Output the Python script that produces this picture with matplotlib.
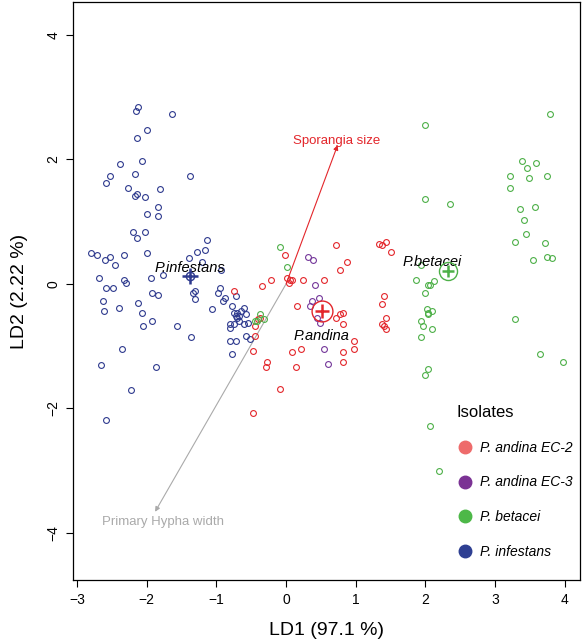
import matplotlib
matplotlib.use("Agg")
import matplotlib.pyplot as plt
from matplotlib.lines import Line2D
import numpy as np

plt.rcParams['font.family'] = ['Liberation Sans Narrow', 'Liberation Sans', 'DejaVu Sans']

# ---- data (LD1, LD2 scores) ----
infestans_x = [-2.12, -2.16, -1.64, -2.00, -2.14, -2.39, -2.07, -2.52, -2.17, -1.38, -2.58, -2.27, -1.81,
               -2.14, -2.17, -2.02, -1.84, -1.99, -1.84, -2.20, -2.03, -2.14, -1.14, -2.80, -2.72, -2.53,
               -2.60, -2.32, -1.99, -1.40, -1.28, -1.17, -1.20, -2.45, -0.94, -1.77, -2.68, -1.94, -2.33,
               -2.30, -2.58, -2.49, -0.95, -1.92, -1.84, -1.34, -1.31, -0.97, -2.63, -2.12, -1.30, -0.87,
               -0.90, -0.72, -2.62, -2.40, -2.07, -1.07, -0.78, -0.75, -0.72, -0.70, -0.64, -0.60, -0.67,
               -0.57, -0.71, -1.93, -1.57, -2.06, -0.81, -0.75, -0.61, -0.67, -0.80, -0.54, -1.36, -0.81,
               -0.72, -0.58, -0.52, -2.35, -0.77, -2.65, -1.87, -2.22, -2.59]
infestans_y = [2.85, 2.77, 2.73, 2.48, 2.34, 1.92, 1.97, 1.73, 1.76, 1.74, 1.62, 1.54, 1.52,
               1.44, 1.41, 1.39, 1.23, 1.13, 1.09, 0.84, 0.83, 0.73, 0.70, 0.49, 0.47, 0.44,
               0.38, 0.47, 0.49, 0.41, 0.51, 0.54, 0.36, 0.30, 0.23, 0.15, 0.09, 0.10, 0.07,
               0.01, -0.06, -0.06, -0.06, -0.14, -0.18, -0.14, -0.12, -0.14, -0.28, -0.31, -0.25, -0.23,
               -0.27, -0.20, -0.44, -0.38, -0.46, -0.41, -0.36, -0.47, -0.51, -0.46, -0.44, -0.39, -0.52,
               -0.49, -0.55, -0.60, -0.67, -0.68, -0.64, -0.65, -0.65, -0.60, -0.70, -0.62, -0.86, -0.91,
               -0.91, -0.84, -0.89, -1.05, -1.13, -1.31, -1.33, -1.70, -2.19]

ec3_x = [0.32, 0.38, 0.42, 0.47, 0.37, 0.34, 0.45, 0.49, 0.55, 0.60]
ec3_y = [0.44, 0.39, -0.01, -0.22, -0.28, -0.36, -0.54, -0.62, -1.05, -1.29]

ec2_x = [0.72, -0.02, 0.88, 0.78, -0.21, -0.35, 0.02, 0.06, 0.09, 0.04, 0.25, 0.54, 0.15, 0.72, 0.78,
         0.82, 0.81, -0.44, -0.44, -0.48, 0.97, 0.98, 0.22, 0.09, 0.81, 0.81, -0.27, -0.29, 0.14, -0.09,
         1.34, 1.38, 1.44, 1.51, 1.41, 1.38, 1.44, 1.37, 1.41, 1.43, -0.75, -0.47, -0.41, -0.38]
ec2_y = [0.62, 0.46, 0.35, 0.22, 0.07, -0.04, 0.10, 0.07, 0.07, 0.02, 0.06, 0.07, -0.36, -0.55, -0.49,
         -0.47, -0.65, -0.68, -0.83, -1.07, -0.91, -1.04, -1.04, -1.10, -1.10, -1.26, -1.25, -1.33, -1.33, -1.68,
         0.64, 0.62, 0.68, 0.51, -0.20, -0.33, -0.54, -0.64, -0.68, -0.72, -0.12, -2.07, -0.57, -0.55]

betacei_x = [-0.09, 0.02, -0.37, -0.31, -0.42, -0.45, 2.00, 2.36, 1.86, 2.04, 2.07, 2.13, 1.99, 2.02,
             2.09, 2.03, 2.04, 1.94, 1.96, 2.10, 1.94, 2.04, 2.00, 3.79, 1.99, 3.39, 3.59, 3.46, 3.22,
             3.48, 3.74, 3.22, 3.36, 3.57, 3.41, 3.45, 3.29, 3.72, 3.74, 3.81, 3.54, 1.94, 3.28, 3.65,
             3.97, 2.07, 2.20]
betacei_y = [0.60, 0.27, -0.49, -0.57, -0.60, -0.60, 1.36, 1.29, 0.07, -0.02, -0.02, 0.04, -0.14, -0.41,
             -0.43, -0.47, -0.49, -0.60, -0.68, -0.73, -0.86, -1.36, -1.46, 2.73, 2.56, 1.97, 1.95, 1.86, 1.73,
             1.70, 1.73, 1.54, 1.20, 1.23, 1.02, 0.81, 0.67, 0.65, 0.44, 0.41, 0.38, 0.31, -0.57, -1.12,
             -1.25, -2.29, -3.00]

centroid_names = ["P.infestans", "P.andina", "P.betacei"]
centroid_x = [-1.38, 0.51, 2.32]
centroid_y = [0.12, -0.43, 0.20]

arrow_names = ["Sporangia size", "Primary Hypha width"]
arrow_x = [0.74, -1.88]
arrow_y = [2.23, -3.66]

legend_labels = ["P. andina EC-2", "P. andina EC-3", "P. betacei", "P. infestans"]

# ---- colours ----
c_blue = "#2E3A8E"
c_red = "#E3262B"
c_purple = "#74379A"
c_green = "#4DB048"
leg_colors = ["#EE6B6B", "#7B3294", "#4DB848", "#2E3F92"]

fig = plt.figure(figsize=(5.83, 6.44), dpi=100)
ax = fig.add_axes([0.125, 0.099, 0.870, 0.898])

ms = 4.2
mew = 0.8
for xs, ys, c in [(infestans_x, infestans_y, c_blue), (ec2_x, ec2_y, c_red),
                  (ec3_x, ec3_y, c_purple), (betacei_x, betacei_y, c_green)]:
    ax.plot(xs, ys, 'o', ms=ms, mfc='none', mec=c, mew=mew, ls='none', zorder=3)

# arrows
arrow_cols = [c_red, "#AAAAAA"]
for (ex, ey, col, name) in zip(arrow_x, arrow_y, arrow_cols, arrow_names):
    ax.annotate("", xy=(ex, ey), xytext=(0, 0),
                arrowprops=dict(arrowstyle="-|>", color=col, lw=0.8,
                                mutation_scale=7, shrinkA=0, shrinkB=0), zorder=2)
ax.text(arrow_x[0] - 0.01, arrow_y[0] + 0.07, arrow_names[0], color=c_red,
        fontsize=9.5, ha='center', va='center')
ax.text(arrow_x[1] + 0.12, arrow_y[1] - 0.17, arrow_names[1], color="#AAAAAA",
        fontsize=9.5, ha='center', va='center')

# centroids: circle + cross
cent_cols = [c_blue, c_red, c_green]
circle_sizes = [6, 15, 13]
plus_sizes = [11, 10, 9]
for cx, cy, col, s, p in zip(centroid_x, centroid_y, cent_cols, circle_sizes, plus_sizes):
    ax.plot([cx], [cy], 'o', ms=s, mfc='none', mec=col, mew=1.0, zorder=4)
    ax.plot([cx], [cy], '+', ms=p, mec=col, mew=1.8, zorder=4)

ax.text(centroid_x[0], centroid_y[0] + 0.14, centroid_names[0], fontsize=10.5,
        style='italic', ha='center', va='center')
ax.text(centroid_x[1], centroid_y[1] - 0.40, centroid_names[1], fontsize=10.5,
        style='italic', ha='center', va='center')
ax.text(centroid_x[2] - 0.22, centroid_y[2] + 0.15, centroid_names[2], fontsize=10.5,
        style='italic', ha='center', va='center')

ax.set_xlim(-3.06, 4.22)
ax.set_ylim(-4.76, 4.53)
ax.set_xticks([-3, -2, -1, 0, 1, 2, 3, 4])
ax.set_yticks([-4, -2, 0, 2, 4])
ax.set_xticklabels(["\u22123", "\u22122", "\u22121", "0", "1", "2", "3", "4"])
ax.set_yticklabels(["\u22124", "\u22122", "0", "2", "4"], rotation=90, va='center')
ax.tick_params(direction='out', length=5, width=0.8, labelsize=10, pad=4)
for sp in ax.spines.values():
    sp.set_linewidth(0.9)
ax.set_xlabel("LD1 (97.1 %)", fontsize=14, labelpad=11)
ax.set_ylabel("LD2 (2.22 %)", fontsize=14, labelpad=13)

handles = [Line2D([0], [0], marker='o', ls='none', ms=9, mfc=c, mec=c) for c in leg_colors]
leg = ax.legend(handles, legend_labels, title="Isolates", loc='upper left',
                bbox_to_anchor=(0.745, 0.312), frameon=False, labelspacing=1.48,
                handletextpad=0.5, borderaxespad=0, title_fontsize=12,
                prop={'size': 10, 'style': 'italic'}, alignment='left', handlelength=1.2)

fig.savefig("out.png", dpi=100)
